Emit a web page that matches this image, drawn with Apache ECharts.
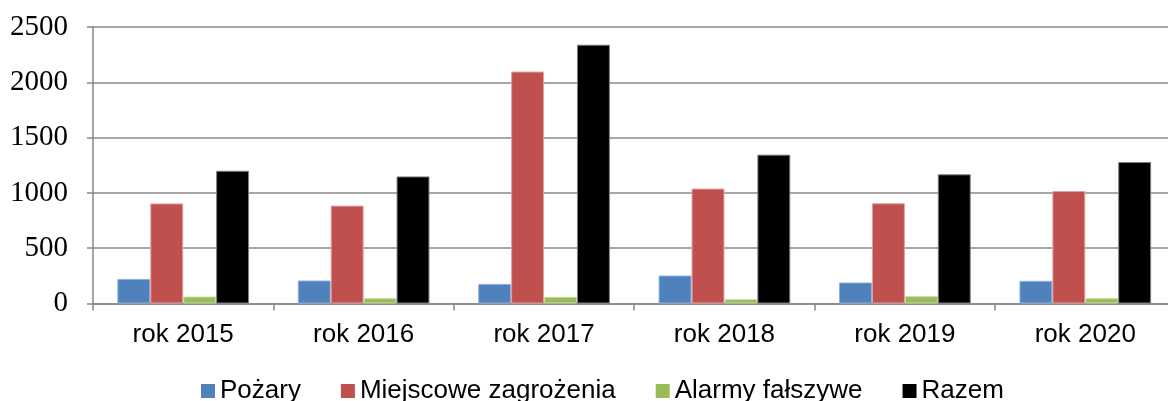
<!DOCTYPE html>
<html>
<head>
<meta charset="utf-8">
<script src="https://cdn.jsdelivr.net/npm/echarts@6/dist/echarts.min.js"></script>
<style>html,body{margin:0;padding:0;background:#fff}#c{width:1168px;height:401px}</style>
</head>
<body>
<div id="c"></div>
<script>
const categories = ['rok 2015','rok 2016','rok 2017','rok 2018','rok 2019','rok 2020'];
const seriesNames = ['Pożary','Miejscowe zagrożenia','Alarmy fałszywe','Razem'];
const pozary = [222, 208, 177, 253, 190, 205];
const miejscowe = [905, 885, 2097, 1039, 906, 1017];
const alarmy = [63, 48, 60, 39, 66, 48];
const razem = [1200, 1149, 2340, 1346, 1168, 1279];
const yTicks = [0, 500, 1000, 1500, 2000, 2500];

const colors = ['#4F81BD', '#C0504D', '#9BBB59', '#000000'];
const borders = ['#8fb0dc', '#e0a0a0', '#c4dca0', '#7f7f7f'];
const values = [pozary, miejscowe, alarmy, razem];

const chart = echarts.init(document.getElementById('c'), null, {renderer: 'canvas'});
chart.setOption({
  animation: false,
  grid: {left: 93, width: 1082.5, top: 27, height: 276.5, containLabel: false, outerBoundsMode: 'none'},
  legend: {
    left: 196, top: 373,
    itemWidth: 14, itemHeight: 14, itemGap: 40,
    icon: 'rect',
    itemStyle: {borderWidth: 0},
    textStyle: {fontFamily: 'Liberation Sans', fontSize: 26, color: '#000'},
    data: seriesNames
  },
  xAxis: {
    type: 'category',
    data: categories,
    axisLine: {lineStyle: {color: '#868686', width: 1.5}},
    axisTick: {show: true, length: 7, lineStyle: {color: '#868686', width: 1.5}, alignWithLabel: false},
    axisLabel: {interval: 0, margin: 18, fontFamily: 'Liberation Sans', fontSize: 26, color: '#000'}
  },
  yAxis: {
    type: 'value',
    min: yTicks[0], max: yTicks[yTicks.length - 1], interval: 500,
    axisLine: {show: true, lineStyle: {color: '#868686', width: 1.5}},
    axisTick: {show: true, length: 6, lineStyle: {color: '#868686', width: 1.5}},
    axisLabel: {margin: 25, fontFamily: 'Liberation Serif', fontSize: 29, color: '#000', formatter: v => String(v)},
    splitLine: {lineStyle: {color: '#8a8a8a', width: 1.5}}
  },
  series: seriesNames.map((name, i) => ({
    name: name,
    type: 'bar',
    data: values[i],
    barGap: '0%',
    barCategoryGap: '27%',
    itemStyle: {color: colors[i], borderColor: borders[i], borderWidth: 1}
  }))
});
</script>
</body>
</html>
